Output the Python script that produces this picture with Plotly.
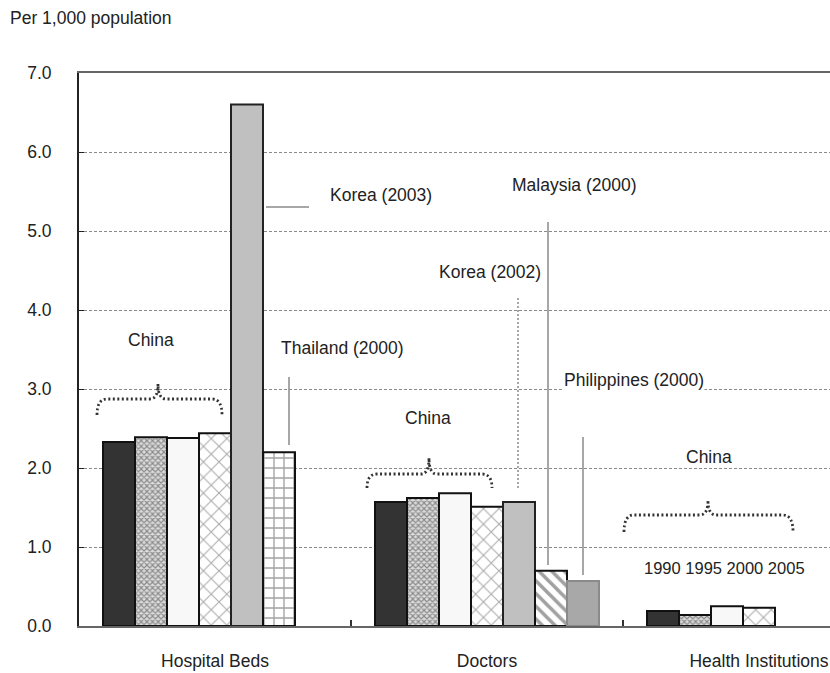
import plotly.graph_objects as go

# ---------------- data ----------------
categories = ["Hospital Beds", "Doctors", "Health Institutions"]
china_1990 = [2.33, 1.57, 0.19]
china_1995 = [2.39, 1.62, 0.14]
china_2000 = [2.38, 1.68, 0.25]
china_2005 = [2.44, 1.51, 0.23]
korea = [6.60, 1.57, None]                 # Korea (2003) beds, Korea (2002) doctors
thailand_malaysia = [2.20, 0.70, None]     # Thailand (2000) beds, Malaysia (2000) doctors
philippines = [None, 0.57, None]           # Philippines (2000) doctors
year_labels = ["1990", "1995", "2000", "2005"]
y_ticks = [0, 1, 2, 3, 4, 5, 6, 7]

FONT = "Arial, Liberation Sans, sans-serif"
TXT = "#222222"

# window geometry (pixels); body margin is removed by a post script
W, H = 830, 673
L, R, T, B = 79, 830, 73, 626          # plot area in window pixels


def px(xp):
    return (xp - L) / (R - L)


def py(yp):
    return (B - yp) / (B - T)


fig = go.Figure()


def add_bar(y, color, line_color="#111111", pattern=None, name=""):
    marker = dict(color=color, line=dict(color=line_color, width=2))
    if pattern is not None:
        marker["pattern"] = pattern
    fig.add_trace(go.Bar(x=categories, y=y, marker=marker, name=name,
                         showlegend=False, hoverinfo="x+y"))


add_bar(china_1990, "#333333", name="1990")
add_bar(china_1995, "#ffffff", name="1995",
        pattern=dict(shape="x", size=4, solidity=0.5, fgcolor="#3a3a3a",
                     bgcolor="#dcdcdc", fillmode="overlay"))
add_bar(china_2000, "#f8f8f8", name="2000")
add_bar(china_2005, "#ffffff", name="2005",
        pattern=dict(shape="x", size=11, solidity=0.18, fgcolor="#555555",
                     bgcolor="#ffffff", fillmode="overlay"))
add_bar(korea, "#c0c0c0", line_color="#222222", name="Korea")
add_bar(thailand_malaysia, "#ffffff", name="Thailand / Malaysia",
        pattern=dict(shape=["+", "\\", ""], size=[10, 9, 10], solidity=[0.25, 0.4, 0.2],
                     fgcolor="#444444", bgcolor="#ffffff", fillmode="overlay"))
add_bar(philippines, "#a8a8a8", line_color="#8a8a8a", name="Philippines")

annotations = []
shapes = []


def text(s, xp, yp, xanchor="center", size=17.5, bg=None):
    a = dict(text=s, xref="paper", yref="paper", x=px(xp), y=py(yp),
             xanchor=xanchor, yanchor="middle", showarrow=False,
             font=dict(family=FONT, size=size, color=TXT))
    if bg:
        a["bgcolor"] = bg
        a["borderpad"] = 0
    annotations.append(a)


def vline(xp, y0, y1, dash="solid", color="#8a8a8a"):
    shapes.append(dict(type="line", xref="paper", yref="paper",
                       x0=px(xp), x1=px(xp), y0=py(y0), y1=py(y1),
                       line=dict(color=color, width=1.5, dash=dash)))


def hline(x0, x1, yp, color="#8a8a8a"):
    shapes.append(dict(type="line", xref="paper", yref="paper",
                       x0=px(x0), x1=px(x1), y0=py(yp), y1=py(yp),
                       line=dict(color=color, width=1.5)))


def brace(xl, xr, xpk, yend, yh, ypk):
    w = 10
    d = 8
    p = (f"M {px(xl)},{py(yend)} Q {px(xl)},{py(yh)} {px(xl + w)},{py(yh)} "
         f"L {px(xpk - d)},{py(yh)} Q {px(xpk)},{py(yh)} {px(xpk)},{py(ypk)} "
         f"Q {px(xpk)},{py(yh)} {px(xpk + d)},{py(yh)} "
         f"L {px(xr - w)},{py(yh)} Q {px(xr)},{py(yh)} {px(xr)},{py(yend)}")
    shapes.append(dict(type="path", xref="paper", yref="paper", path=p,
                       line=dict(color="#333333", width=2.8, dash="2px,2.5px")))


# unit label
text("Per 1,000 population", 8, 18, xanchor="left")

# Hospital beds group
text("China", 151, 340)
brace(97, 222, 158, 415, 399, 384)
text("Korea (2003)", 328, 195, xanchor="left")
hline(266, 309, 207)
text("Thailand (2000)", 279, 348, xanchor="left")
vline(289, 377, 445)

# Doctors group
text("Malaysia (2000)", 510, 185, xanchor="left")
vline(548, 222, 565)
text("Korea (2002)", 437, 272, xanchor="left")
vline(518, 298, 489, dash="2px,2px")
text("Philippines (2000)", 563, 380, xanchor="left", bg="#ffffff")
vline(583, 437, 575)
text("China", 428, 418)
brace(367, 492, 429, 488, 474, 458)

# Health institutions group
text("China", 709, 457, bg="#ffffff")
brace(624, 793, 708, 532, 515, 500)
text(" ".join(year_labels), 724, 568, size=16.5)

fig.update_layout(
    width=W, height=H,
    margin=dict(l=L, r=W - R, t=T, b=H - B, pad=0),
    paper_bgcolor="#ffffff", plot_bgcolor="#ffffff",
    barmode="group", bargap=0.1765, bargroupgap=0,
    font=dict(family=FONT, size=17.5, color=TXT),
    annotations=annotations, shapes=shapes,
    showlegend=False,
)
fig.update_xaxes(
    type="category", range=[-0.5, -0.5 + (R - L) / 272.0],
    showline=True, linecolor="#666666", linewidth=2, mirror=True,
    showgrid=False, tickson="boundaries", ticks="inside", ticklen=6,
    tickcolor="#333333", tickwidth=1.5, ticklabelstandoff=18,
    tickfont=dict(family=FONT, size=17.5, color=TXT),
)
fig.update_yaxes(
    range=[0, 7], tickvals=y_ticks, ticktext=[f"{v:.1f}" for v in y_ticks],
    showline=True, linecolor="#222222", linewidth=2,
    showgrid=True, gridcolor="#8a8a8a", gridwidth=1, griddash="3px,2px",
    zeroline=False, ticks="inside", ticklen=5, tickcolor="#222222",
    ticklabelstandoff=22,
    tickfont=dict(family=FONT, size=17.5, color=TXT),
)

fig.write_html(
    "out.html",
    config={"displayModeBar": False},
    post_script="document.body.style.margin='0px';document.body.style.overflow='hidden';",
)
